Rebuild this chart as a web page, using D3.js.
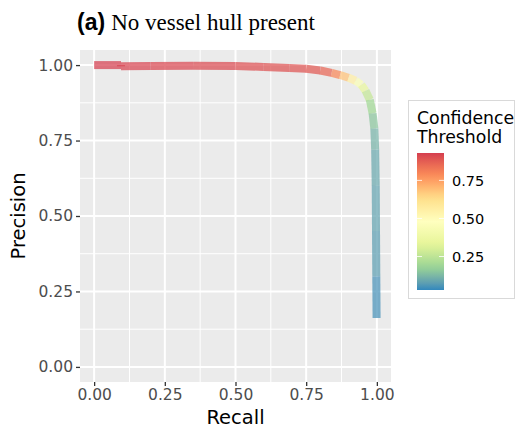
<!DOCTYPE html>
<html><head><meta charset="utf-8">
<script src="https://cdn.jsdelivr.net/npm/d3@7"></script>
<style>body{margin:0;background:#fff}svg{display:block}</style>
</head><body><svg id="c" width="516" height="428"></svg>
<script>
// ---- data ----
const recall     = [0, 0.095, 0.095, 0.2, 0.35, 0.5, 0.6, 0.69, 0.75, 0.8, 0.84, 0.87, 0.9, 0.925, 0.945, 0.96, 0.975, 0.985, 0.991, 0.994, 0.996, 0.997, 0.998, 0.999];
const precision  = [1.0, 1.0, 0.996, 0.997, 0.998, 0.997, 0.994, 0.990, 0.988, 0.982, 0.974, 0.967, 0.958, 0.948, 0.935, 0.915, 0.885, 0.84, 0.79, 0.72, 0.6, 0.45, 0.3, 0.162];
const confidence = [0.93, 0.93, 0.92, 0.92, 0.91, 0.91, 0.9, 0.9, 0.89, 0.88, 0.84, 0.75, 0.62, 0.5, 0.4, 0.3, 0.22, 0.17, 0.13, 0.1, 0.09, 0.08, 0.07, 0.03];
const axisTicks = [0, 0.25, 0.5, 0.75, 1];
const axisTickLabels = ["0.00", "0.25", "0.50", "0.75", "1.00"];
const legendTicks = [0.25, 0.5, 0.75];
const legendTickLabels = ["0.25", "0.50", "0.75"];
const spectral = ["#3288BD", "#99D594", "#E6F598", "#FFFFBF", "#FEE08B", "#FC8D59", "#D53E4F"];
const confLimits = [0.03, 0.93];

const svg = d3.select("#c");
const P = {l: 80, r: 391, t: 50, b: 382};
const x = d3.scaleLinear().domain([-0.05, 1.05]).range([P.l, P.r]);
const y = d3.scaleLinear().domain([-0.05, 1.05]).range([P.b, P.t]);
const color = d3.scaleLinear()
  .domain(d3.range(spectral.length).map(i => confLimits[0] + i * (confLimits[1] - confLimits[0]) / (spectral.length - 1)))
  .range(spectral).interpolate(d3.interpolateLab).clamp(true);

// title
const title = svg.append("text").attr("x", 77).attr("y", 30);
title.append("tspan").attr("font-family", "Liberation Sans, Arial, sans-serif").attr("font-weight", "bold").attr("font-size", 23).text("(a)");
title.append("tspan").attr("font-family", "Liberation Serif, Times New Roman, serif").attr("font-size", 23).attr("dx", 6).text("No vessel hull present");

// panel
svg.append("rect").attr("x", P.l).attr("y", P.t).attr("width", P.r - P.l).attr("height", P.b - P.t).attr("fill", "#EBEBEB");
const minor = [0.125, 0.375, 0.625, 0.875];
const g = svg.append("g");
minor.forEach(v => {
  g.append("line").attr("x1", x(v)).attr("x2", x(v)).attr("y1", P.t).attr("y2", P.b).attr("stroke", "#fff").attr("stroke-width", 1);
  g.append("line").attr("y1", y(v)).attr("y2", y(v)).attr("x1", P.l).attr("x2", P.r).attr("stroke", "#fff").attr("stroke-width", 1);
});
axisTicks.forEach(v => {
  g.append("line").attr("x1", x(v)).attr("x2", x(v)).attr("y1", P.t).attr("y2", P.b).attr("stroke", "#fff").attr("stroke-width", 2);
  g.append("line").attr("y1", y(v)).attr("y2", y(v)).attr("x1", P.l).attr("x2", P.r).attr("stroke", "#fff").attr("stroke-width", 2);
});

// curve segments
const pts = recall.map((r, i) => ({r, p: precision[i], c: confidence[i]}));
const seg = svg.append("g");
for (let i = 0; i < pts.length - 1; i++) {
  const a = pts[i], b = pts[i + 1];
  seg.append("line")
    .attr("x1", x(a.r)).attr("y1", y(a.p)).attr("x2", x(b.r)).attr("y2", y(b.p))
    .attr("stroke", color((a.c + b.c) / 2)).attr("stroke-width", 8)
    .attr("stroke-opacity", 0.72).attr("stroke-linecap", "butt");
}

// axes
const xAxis = d3.axisBottom(x).tickValues(axisTicks).tickFormat((d, i) => axisTickLabels[i]).tickSize(4).tickPadding(3);
const yAxis = d3.axisLeft(y).tickValues(axisTicks).tickFormat((d, i) => axisTickLabels[i]).tickSize(4).tickPadding(3);
const gx = svg.append("g").attr("transform", `translate(0,${P.b})`).call(xAxis);
const gy = svg.append("g").attr("transform", `translate(${P.l},0)`).call(yAxis);
[gx, gy].forEach(a => {
  a.select(".domain").remove();
  a.selectAll(".tick line").attr("stroke", "#333").attr("stroke-width", 1.3);
  a.selectAll(".tick text").attr("fill", "#4D4D4D").attr("font-family", "DejaVu Sans, sans-serif").attr("font-size", 15.5);
});

svg.append("text").attr("x", (P.l + P.r) / 2).attr("y", 424).attr("text-anchor", "middle")
  .attr("font-family", "DejaVu Sans, sans-serif").attr("font-size", 19.5).attr("fill", "#000").text("Recall");
svg.append("text").attr("transform", `translate(25,${(P.t + P.b) / 2}) rotate(-90)`).attr("text-anchor", "middle")
  .attr("font-family", "DejaVu Sans, sans-serif").attr("font-size", 19.5).attr("fill", "#000").text("Precision");

// legend
svg.append("rect").attr("x", 408.5).attr("y", 100.5).attr("width", 106).attr("height", 198).attr("fill", "#fff").attr("stroke", "#D9D9D9");
const lt = svg.append("text").attr("font-family", "DejaVu Sans, sans-serif").attr("font-size", 17.3).attr("fill", "#000");
lt.append("tspan").attr("x", 417).attr("y", 123.5).text("Confidence");
lt.append("tspan").attr("x", 417).attr("y", 142.5).text("Threshold");

const bar = {x: 417, w: 27, t: 153, b: 290};
const ly = d3.scaleLinear().domain(confLimits).range([bar.b, bar.t]);
const defs = svg.append("defs");
const grad = defs.append("linearGradient").attr("id", "cg").attr("x1", 0).attr("x2", 0).attr("y1", 1).attr("y2", 0);
d3.range(0, 21).forEach(i => {
  const v = confLimits[0] + i / 20 * (confLimits[1] - confLimits[0]);
  grad.append("stop").attr("offset", i / 20).attr("stop-color", color(v));
});
svg.append("rect").attr("x", bar.x).attr("y", bar.t).attr("width", bar.w).attr("height", bar.b - bar.t).attr("fill", "url(#cg)");
legendTicks.forEach((v, i) => {
  svg.append("line").attr("x1", bar.x).attr("x2", bar.x + 5).attr("y1", ly(v)).attr("y2", ly(v)).attr("stroke", "#fff").attr("stroke-width", 1).attr("stroke-opacity", 0.8);
  svg.append("line").attr("x1", bar.x + bar.w - 5).attr("x2", bar.x + bar.w).attr("y1", ly(v)).attr("y2", ly(v)).attr("stroke", "#fff").attr("stroke-width", 1).attr("stroke-opacity", 0.8);
  svg.append("text").attr("x", 452).attr("y", ly(v)).attr("dy", "0.36em")
    .attr("font-family", "DejaVu Sans, sans-serif").attr("font-size", 14.5).attr("fill", "#000").text(legendTickLabels[i]);
});
</script></body></html>
